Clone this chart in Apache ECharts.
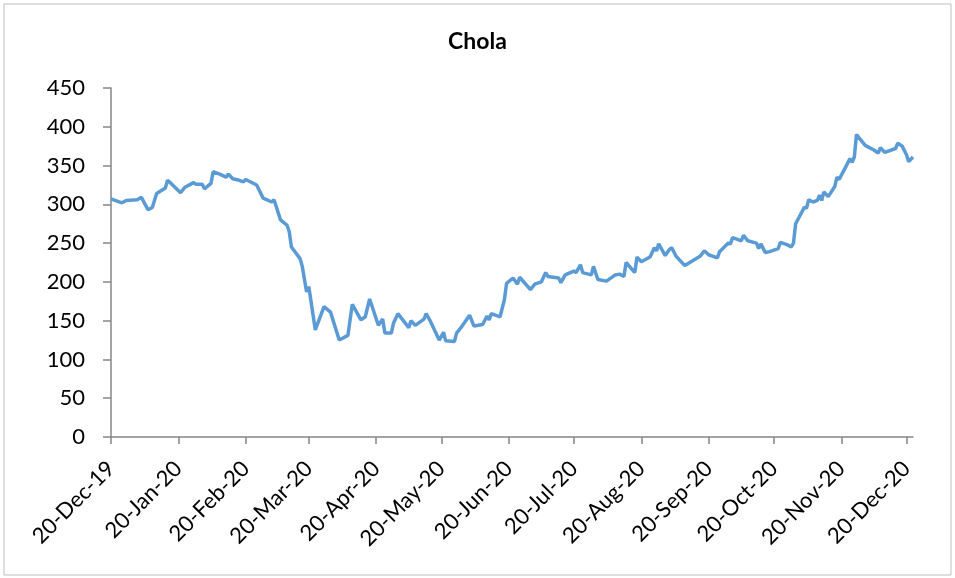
<!DOCTYPE html>
<html>
<head>
<meta charset="utf-8">
<title>Chola</title>
<script src="https://cdn.jsdelivr.net/npm/echarts@6/dist/echarts.min.js"></script>
<style>
  html, body { margin: 0; padding: 0; background: #fff; }
  #chart { width: 955px; height: 578px; }
</style>
</head>
<body>
<div id="chart"></div>
<script>
// dates and closing prices
var dates = [
  '2019-12-20', '2019-12-25', '2019-12-27', '2020-01-01', '2020-01-03', '2020-01-06', '2020-01-08', '2020-01-10',
  '2020-01-14', '2020-01-15', '2020-01-17', '2020-01-21', '2020-01-23', '2020-01-27', '2020-01-28', '2020-01-31',
  '2020-02-01', '2020-02-04', '2020-02-05', '2020-02-08', '2020-02-11', '2020-02-12', '2020-02-14', '2020-02-17',
  '2020-02-19', '2020-02-20', '2020-02-25', '2020-02-28', '2020-03-03', '2020-03-04', '2020-03-07', '2020-03-10',
  '2020-03-11', '2020-03-12', '2020-03-16', '2020-03-17', '2020-03-19', '2020-03-20', '2020-03-23', '2020-03-27',
  '2020-03-30', '2020-04-03', '2020-04-07', '2020-04-09', '2020-04-13', '2020-04-15', '2020-04-17', '2020-04-21',
  '2020-04-23', '2020-04-24', '2020-04-27', '2020-04-28', '2020-04-30', '2020-05-05', '2020-05-06', '2020-05-08',
  '2020-05-12', '2020-05-13', '2020-05-15', '2020-05-19', '2020-05-21', '2020-05-22', '2020-05-26', '2020-05-27',
  '2020-05-29', '2020-06-02', '2020-06-04', '2020-06-08', '2020-06-10', '2020-06-11', '2020-06-12', '2020-06-16',
  '2020-06-18', '2020-06-19', '2020-06-22', '2020-06-24', '2020-06-25', '2020-06-30', '2020-07-02', '2020-07-05',
  '2020-07-07', '2020-07-08', '2020-07-13', '2020-07-14', '2020-07-16', '2020-07-20', '2020-07-21', '2020-07-23',
  '2020-07-24', '2020-07-28', '2020-07-29', '2020-07-31', '2020-08-04', '2020-08-08', '2020-08-10', '2020-08-12',
  '2020-08-13', '2020-08-17', '2020-08-18', '2020-08-20', '2020-08-24', '2020-08-26', '2020-08-27', '2020-08-28',
  '2020-08-31', '2020-09-02', '2020-09-03', '2020-09-05', '2020-09-09', '2020-09-13', '2020-09-16', '2020-09-18',
  '2020-09-20', '2020-09-24', '2020-09-25', '2020-09-29', '2020-09-30', '2020-10-01', '2020-10-05', '2020-10-06',
  '2020-10-08', '2020-10-12', '2020-10-13', '2020-10-14', '2020-10-16', '2020-10-18', '2020-10-22', '2020-10-23',
  '2020-10-26', '2020-10-28', '2020-10-29', '2020-10-30', '2020-11-03', '2020-11-04', '2020-11-05', '2020-11-07',
  '2020-11-09', '2020-11-10', '2020-11-11', '2020-11-12', '2020-11-14', '2020-11-17', '2020-11-18', '2020-11-19',
  '2020-11-22', '2020-11-24', '2020-11-25', '2020-11-26', '2020-11-27', '2020-12-01', '2020-12-05', '2020-12-07',
  '2020-12-08', '2020-12-10', '2020-12-15', '2020-12-16', '2020-12-18', '2020-12-20', '2020-12-21', '2020-12-23'
]
var prices = [
  307, 302, 305, 306, 309, 293, 296, 314,
  321, 331, 326, 315, 322, 328, 326, 326,
  320, 327, 342, 339, 335, 339, 333, 331,
  329, 332, 325, 308, 303, 306, 280, 273,
  265, 245, 230, 220, 187, 194, 138, 168,
  161, 125, 131, 171, 151, 155, 178, 144,
  152, 134, 134, 147, 159, 141, 150, 144,
  152, 159, 149, 125, 135, 124, 123, 134,
  141, 157, 143, 145, 156, 151, 159, 155,
  177, 198, 205, 197, 206, 190, 197, 200,
  212, 207, 205, 199, 209, 214, 212, 222,
  212, 209, 220, 203, 201, 209, 210, 207,
  225, 212, 232, 226, 232, 244, 240, 249,
  234, 242, 244, 233, 221, 228, 233, 240,
  235, 231, 239, 250, 249, 257, 253, 260,
  253, 250, 243, 249, 238, 239, 243, 251,
  248, 245, 250, 275, 296, 295, 306, 303,
  305, 312, 305, 316, 310, 323, 335, 332,
  348, 359, 354, 361, 390, 376, 370, 366,
  373, 367, 372, 379, 375, 364, 355, 361
]
var tickDates = [
  '2019-12-20', '2020-01-20', '2020-02-20', '2020-03-20', '2020-04-20', '2020-05-20', '2020-06-20',
  '2020-07-20', '2020-08-20', '2020-09-20', '2020-10-20', '2020-11-20', '2020-12-20'
]
var axisStart = '2019-12-20'
var axisEnd = '2020-12-23'

var months = ['Jan', 'Feb', 'Mar', 'Apr', 'May', 'Jun', 'Jul', 'Aug', 'Sep', 'Oct', 'Nov', 'Dec']
var font = 'Lato, "Open Sans", sans-serif'
var axisColor = '#868686'

function toTime(s) {
  return +echarts.time.parse(s)
}

var chart = echarts.init(document.getElementById('chart'))
var tickValues = tickDates.map(toTime)

chart.setOption({
  animation: false,
  title: {
    text: 'Chola',
    left: 'center',
    top: 25,
    textStyle: {
      fontFamily: font,
      fontSize: 23,
      fontWeight: 'bold',
      color: '#000'
    }
  },
  graphic: [{
    type: 'rect',
    shape: { x: 4, y: 4, width: 947, height: 571 },
    style: { fill: 'none', stroke: '#bfbfbf', lineWidth: 1 },
    silent: true
  }],
  grid: {
    left: 111,
    right: 42,
    top: 88,
    bottom: 141
  },
  xAxis: {
    // dates as timestamps on a plain value axis, ticks on the 20th of each month
    type: 'value',
    min: toTime(axisStart),
    max: toTime(axisEnd),
    axisLine: { lineStyle: { color: axisColor, width: 1.5 } },
    axisTick: {
      show: true,
      length: 7,
      customValues: tickValues,
      lineStyle: { color: axisColor, width: 1.5 }
    },
    splitLine: { show: false },
    axisLabel: {
      customValues: tickValues,
      rotate: 45,
      margin: 28,
      fontFamily: font,
      fontSize: 22,
      color: '#000',
      formatter: function (value) {
        var d = new Date(value)
        var yy = String(d.getFullYear()).slice(2)
        return d.getDate() + '-' + months[d.getMonth()] + '-' + yy
      }
    }
  },
  yAxis: {
    type: 'value',
    min: 0,
    max: 450,
    interval: 50,
    axisLine: { show: true, lineStyle: { color: axisColor, width: 1.5 } },
    axisTick: { show: true, length: 8, lineStyle: { color: axisColor, width: 1.5 } },
    splitLine: { show: false },
    axisLabel: {
      margin: 26,
      fontFamily: font,
      fontSize: 22,
      color: '#000'
    }
  },
  series: [{
    name: 'Chola',
    type: 'line',
    showSymbol: false,
    smooth: false,
    lineStyle: { color: '#5b9bd5', width: 3.5 },
    itemStyle: { color: '#5b9bd5' },
    data: dates.map(function (d, i) { return [toTime(d), prices[i]] })
  }]
})
</script>
</body>
</html>
